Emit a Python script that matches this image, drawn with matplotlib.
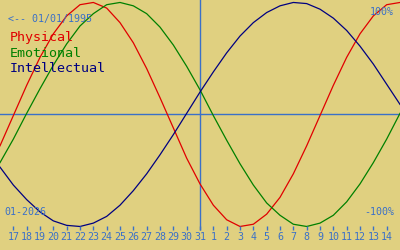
import matplotlib
matplotlib.use("Agg")
import matplotlib.pyplot as plt

# day positions (0 = first labelled tick), one sample per day from the left edge to the right edge
days = list(range(-1, 30))
tick_labels = [str(d) for d in range(17, 32)] + [str(d) for d in range(1, 15)]

physical = [-0.28, -0.01, 0.26, 0.51, 0.72, 0.88, 0.98, 1.00, 0.95, 0.82, 0.64, 0.41, 0.15, -0.12, -0.39,
            -0.62, -0.81, -0.94, -1.00, -0.98, -0.89, -0.74, -0.53, -0.28, -0.01, 0.26, 0.51, 0.72, 0.88, 0.98, 1.00]
emotional = [-0.43, -0.22, 0.01, 0.23, 0.44, 0.63, 0.79, 0.90, 0.98, 1.00, 0.97, 0.90, 0.78, 0.62, 0.43,
             0.22, -0.01, -0.23, -0.44, -0.63, -0.79, -0.90, -0.98, -1.00, -0.97, -0.90, -0.78, -0.62, -0.43, -0.22, 0.01]
intellectual = [-0.47, -0.63, -0.76, -0.87, -0.95, -0.99, -1.00, -0.97, -0.91, -0.81, -0.68, -0.53, -0.36, -0.18, 0.01,
                0.20, 0.38, 0.55, 0.70, 0.82, 0.91, 0.97, 1.00, 0.99, 0.94, 0.86, 0.75, 0.61, 0.45, 0.27, 0.09]
today = 14  # Dec 31

bg = "#e0d080"
blue = "#3a70c8"
mono = "DejaVu Sans Mono"

fig = plt.figure(figsize=(4, 2.5), dpi=100)
fig.patch.set_facecolor(bg)
ax = fig.add_axes([0, 0, 1, 1])
ax.set_facecolor(bg)
ax.set_xlim(-1, 29)
ax.set_ylim(-1.21, 1.022)
ax.axis("off")

ax.axhline(0, color=blue, lw=1)
ax.vlines(today, -1.031, 1.03, color=blue, lw=1)

ax.plot(days, physical, color="#e00000", lw=0.9)
ax.plot(days, emotional, color="#008000", lw=0.9)
ax.plot(days, intellectual, color="#000080", lw=0.9)

for i, lab in enumerate(tick_labels):
    ax.vlines(i, -1.031, -0.996, color=blue, lw=1)
    ax.text(i, -1.094, lab, color=blue, fontsize=7.2, family=mono, ha="center", va="center")

ax.text(0.02, 0.925, "<-- 01/01/1995", transform=ax.transAxes, color=blue, fontsize=7.2, family=mono,
        ha="left", va="center")
ax.text(0.025, 0.848, "Physical", transform=ax.transAxes, color="#e00000", fontsize=9.6, family=mono,
        ha="left", va="center")
ax.text(0.025, 0.786, "Emotional", transform=ax.transAxes, color="#008000", fontsize=9.6, family=mono,
        ha="left", va="center")
ax.text(0.025, 0.724, "Intellectual", transform=ax.transAxes, color="#000080", fontsize=9.6, family=mono,
        ha="left", va="center")
ax.text(0.985, 0.953, "100%", transform=ax.transAxes, color=blue, fontsize=7.2, family=mono,
        ha="right", va="center")
ax.text(0.985, 0.152, "-100%", transform=ax.transAxes, color=blue, fontsize=7.2, family=mono,
        ha="right", va="center")
ax.text(0.01, 0.152, "01-2026", transform=ax.transAxes, color=blue, fontsize=7.2, family=mono,
        ha="left", va="center")

fig.savefig("out.png", dpi=100, facecolor=bg)
